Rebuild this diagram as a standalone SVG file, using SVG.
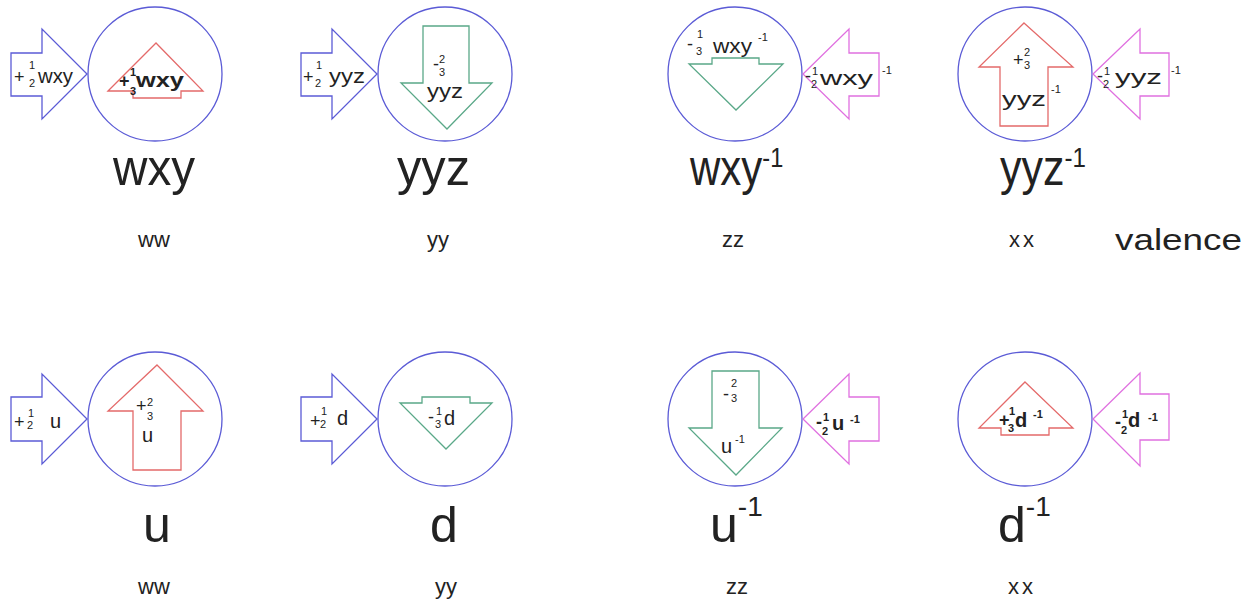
<svg xmlns="http://www.w3.org/2000/svg" width="1253" height="603" viewBox="0 0 1253 603">
<style>
.bg{fill:#fff}
.c{fill:none;stroke:#5b5bd6;stroke-width:1.3}
.b{fill:none;stroke:#5b5bd6;stroke-width:1.3}
.r{fill:none;stroke:#e46a6a;stroke-width:1.3}
.g{fill:none;stroke:#5aa888;stroke-width:1.3}
.m{fill:none;stroke:#e070e0;stroke-width:1.3}
text{font-family:"Liberation Sans",Arial,sans-serif;fill:#222}
.s{font-size:18px}
.f{font-size:11px}
.l{font-size:20px}
.bd{font-weight:bold}
.big{font-size:50px}
.sup{font-size:28px}
.lab{font-size:22px}
</style>
<rect class="bg" x="0" y="0" width="1253" height="603"/>
<g id="connectors"></g>

<g id="wxy">
<circle class="c" cx="155" cy="74" r="67"/>
<polygon class="b" points="11,53 42,53 42,29 87,74 42,119 42,96 11,96"/>
<text class="s" x="14" y="83">+</text><text class="f" x="29" y="69">1</text><text class="f" x="29" y="87">2</text><text class="l" x="38" y="83" textLength="35" lengthAdjust="spacingAndGlyphs">wxy</text>
<polygon class="r" points="108,91 156,43 203,91 181,91 181,98 133,98 133,91"/>
<text class="s bd" x="119" y="87">+</text><text class="f bd" x="130" y="76">1</text><text class="f bd" x="130" y="95">3</text><text class="l bd" x="136" y="87" textLength="48" lengthAdjust="spacingAndGlyphs">wxy</text>
<text class="big" x="113" y="185" textLength="82" lengthAdjust="spacingAndGlyphs">wxy</text>
<text class="lab" x="154" y="247" text-anchor="middle">ww</text>
</g>

<g id="yyz">
<circle class="c" cx="445" cy="74" r="67"/>
<polygon class="b" points="301,53 332,53 332,29 377,74 332,119 332,96 301,96"/>
<text class="s" x="303" y="83">+</text><text class="f" x="316" y="69">1</text><text class="f" x="315" y="87">2</text><text class="l" x="329" y="83" textLength="36" lengthAdjust="spacingAndGlyphs">yyz</text>
<polygon class="g" points="423,26 469,26 469,83 492,83 447,129 401,83 423,83"/>
<text class="s" x="433" y="70">-</text><text class="f" x="439" y="63">2</text><text class="f" x="439" y="76">3</text><text class="l" x="427" y="98" textLength="36" lengthAdjust="spacingAndGlyphs">yyz</text>
<text class="big" x="397" y="185" textLength="73" lengthAdjust="spacingAndGlyphs">yyz</text>
<text class="lab" x="438" y="247" text-anchor="middle">yy</text>
</g>

<g id="wxy-inv">
<circle class="c" cx="735" cy="74" r="67"/>
<polygon class="m" points="879,53 849,53 849,29 803,74 849,119 849,96 879,96"/>
<text class="s" x="805" y="82">-</text><text class="f" x="812" y="75">1</text><text class="f" x="811" y="88">2</text><text class="l" x="820" y="85" textLength="53" lengthAdjust="spacingAndGlyphs">wxy</text><text class="f" x="882" y="74">-1</text>
<polygon class="g" points="689,64 712,64 712,58 759,58 759,64 783,64 736,110"/>
<text class="s" x="687" y="50">-</text><text class="f" x="697" y="38">1</text><text class="f" x="696" y="55">3</text><text class="l" x="713" y="53" textLength="39" lengthAdjust="spacingAndGlyphs">wxy</text><text class="f" x="758" y="41">-1</text>
<text class="big" transform="translate(690,185) scale(0.84,1)">wxy<tspan class="sup" dy="-18">-1</tspan></text>
<text class="lab" x="733" y="247" text-anchor="middle">zz</text>
</g>

<g id="yyz-inv">
<circle class="c" cx="1025" cy="74" r="67"/>
<polygon class="m" points="1169,53 1140,53 1140,29 1093,74 1140,119 1140,96 1169,96"/>
<text class="s" x="1097" y="82">-</text><text class="f" x="1104" y="75">1</text><text class="f" x="1103" y="88">2</text><text class="l" x="1115" y="84" textLength="47" lengthAdjust="spacingAndGlyphs">yyz</text><text class="f" x="1171" y="74">-1</text>
<polygon class="r" points="1024,23 1073,67 1048,67 1048,126 1000,126 1000,67 979,67"/>
<text class="s" x="1013" y="66">+</text><text class="f" x="1024" y="56">2</text><text class="f" x="1024" y="69">3</text><text class="l" x="1002" y="106" textLength="44" lengthAdjust="spacingAndGlyphs">yyz</text><text class="f" x="1051" y="93">-1</text>
<text class="big" transform="translate(1000,185) scale(0.86,1)">yyz<tspan class="sup" dy="-18">-1</tspan></text>
<text class="lab" x="1023" y="247" text-anchor="middle" letter-spacing="3">xx</text>
<text x="1115" y="250" font-size="30" textLength="127" lengthAdjust="spacingAndGlyphs">valence</text>
</g>

<g id="u">
<circle class="c" cx="155" cy="419" r="67"/>
<polygon class="b" points="11,397 42,397 42,374 87,419 42,464 42,441 11,441"/>
<text class="s" x="14" y="428">+</text><text class="f" x="28" y="417">1</text><text class="f" x="27" y="429">2</text><text class="l" x="50" y="428">u</text>
<polygon class="r" points="157,365 203,411 181,411 181,470 133,470 133,411 108,411"/>
<text class="s" x="136" y="412">+</text><text class="f" x="147" y="406">2</text><text class="f" x="147" y="420">3</text><text class="l" x="142" y="442">u</text>
<text class="big" x="143" y="542" font-size="52">u</text>
<text class="lab" x="154" y="594" text-anchor="middle">ww</text>
</g>

<g id="d">
<circle class="c" cx="445" cy="419" r="67"/>
<polygon class="b" points="301,397 332,397 332,374 377,419 332,464 332,441 301,441"/>
<text class="s" x="310" y="427">+</text><text class="f" x="321" y="415">1</text><text class="f" x="320" y="428">2</text><text class="l" x="337" y="425">d</text>
<polygon class="g" points="400,403 422,403 422,397 470,397 470,403 492,403 446,449"/>
<text class="s" x="428" y="423">-</text><text class="f" x="436" y="415">1</text><text class="f" x="435" y="428">3</text><text class="l" x="444" y="425">d</text>
<text class="big" x="430" y="542">d</text>
<text class="lab" x="446" y="594" text-anchor="middle">yy</text>
</g>

<g id="u-inv">
<circle class="c" cx="735" cy="419" r="67"/>
<polygon class="m" points="879,397 849,397 849,374 803,419 849,464 849,441 879,441"/>
<text class="s bd" x="816" y="428">-</text><text class="f bd" x="823" y="421">1</text><text class="f bd" x="822" y="435">2</text><text class="l bd" x="832" y="430">u</text><text class="f bd" x="850" y="423">-1</text>
<polygon class="g" points="712,371 759,371 759,428 782,428 736,475 689,428 712,428"/>
<text class="s" x="723" y="400">-</text><text class="f" x="731" y="387">2</text><text class="f" x="731" y="402">3</text><text class="l" x="721" y="453">u</text><text class="f" x="735" y="443">-1</text>
<text class="big" x="710" y="542">u<tspan class="sup" dy="-26">-1</tspan></text>
<text class="lab" x="737" y="594" text-anchor="middle">zz</text>
</g>

<g id="d-inv">
<circle class="c" cx="1025" cy="419" r="67"/>
<polygon class="m" points="1169,394 1140,394 1140,373 1093,419 1140,466 1140,440 1169,440"/>
<text class="s bd" x="1115" y="428">-</text><text class="f bd" x="1122" y="418">1</text><text class="f bd" x="1121" y="434">2</text><text class="l bd" x="1128" y="427">d</text><text class="f bd" x="1148" y="421">-1</text>
<polygon class="r" points="1025,382 1073,428 1049,428 1049,435 1001,435 1001,428 979,428"/>
<text class="s bd" x="999" y="426">+</text><text class="f bd" x="1009" y="415">1</text><text class="f bd" x="1008" y="432">3</text><text class="l bd" x="1015" y="427">d</text><text class="f bd" x="1033" y="418">-1</text>
<text class="big" x="998" y="542">d<tspan class="sup" dy="-26">-1</tspan></text>
<text class="lab" x="1022" y="594" text-anchor="middle" letter-spacing="3">xx</text>
</g>
</svg>
